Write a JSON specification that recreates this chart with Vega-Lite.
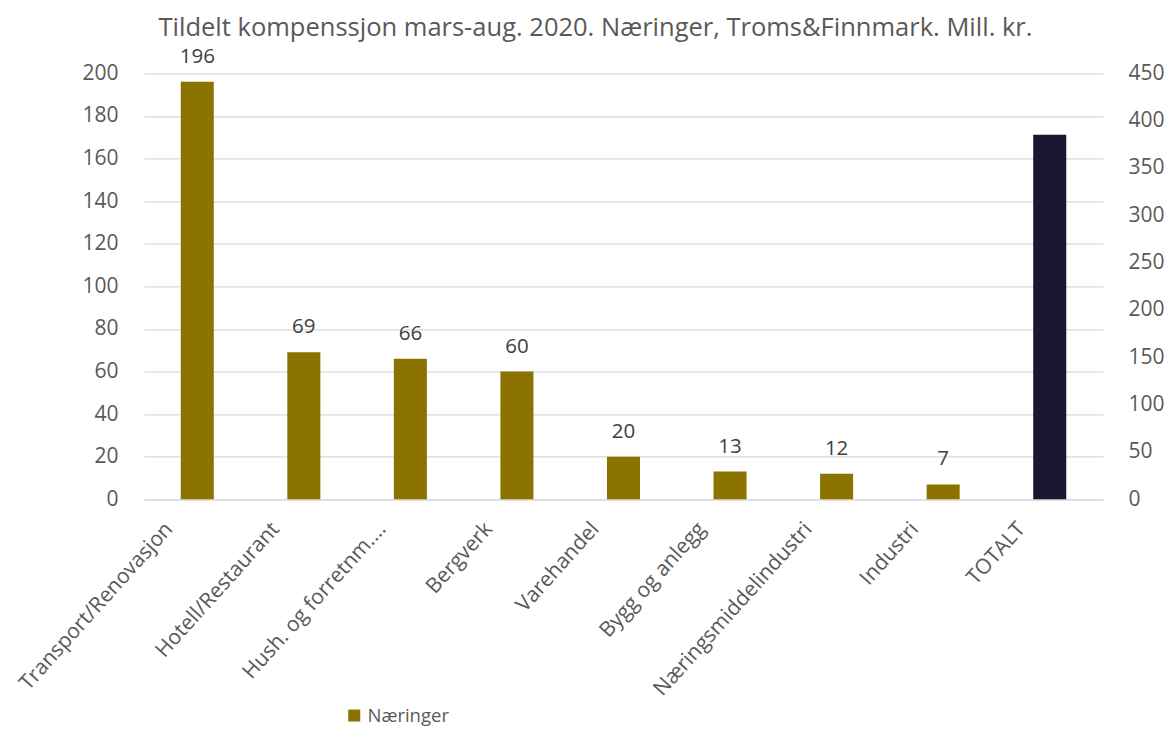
{
  "$schema": "https://vega.github.io/schema/vega-lite/v6.json",
  "width": 959,
  "height": 426,
  "autosize": "none",
  "padding": {"left": 144, "top": 73.3, "right": 70, "bottom": 231.7},
  "background": "white",
  "config": {
    "view": {"stroke": null},
    "font": "Open Sans"
  },
  "title": {
    "text": "Tildelt kompenssjon mars-aug. 2020. Næringer, Troms&Finnmark. Mill. kr.",
    "fontSize": 25.5,
    "fontWeight": "normal",
    "color": "#595959",
    "anchor": "middle",
    "frame": "group",
    "baseline": "alphabetic",
    "dx": -28,
    "dy": 21,
    "offset": 6
  },
  "data": {
    "values": [
      {"naering": "Transport/Renovasjon", "verdi": 196, "serie": "Næringer"},
      {"naering": "Hotell/Restaurant", "verdi": 69, "serie": "Næringer"},
      {"naering": "Hush. og forretnm....", "verdi": 66, "serie": "Næringer"},
      {"naering": "Bergverk", "verdi": 60, "serie": "Næringer"},
      {"naering": "Varehandel", "verdi": 20, "serie": "Næringer"},
      {"naering": "Bygg og anlegg", "verdi": 13, "serie": "Næringer"},
      {"naering": "Næringsmiddelindustri", "verdi": 12, "serie": "Næringer"},
      {"naering": "Industri", "verdi": 7, "serie": "Næringer"},
      {"naering": "TOTALT", "verdi": 385, "serie": "Totalt"}
    ]
  },
  "encoding": {
    "x": {
      "field": "naering",
      "type": "nominal",
      "sort": null,
      "scale": {"paddingInner": 0.69, "paddingOuter": 0.345},
      "axis": {
        "title": null,
        "labelAngle": -48,
        "labelAlign": "right",
        "labelBaseline": "middle",
        "labelFontSize": 21,
        "labelColor": "#595959",
        "labelPadding": 26,
        "labelOffset": -28,
        "labelLimit": 0,
        "ticks": false,
        "tickSize": 0,
        "domain": true,
        "domainColor": "#d9d9d9",
        "domainWidth": 1.3
      }
    }
  },
  "layer": [
    {
      "transform": [{"filter": "datum.serie === 'Næringer'"}],
      "encoding": {
        "y": {
          "field": "verdi",
          "type": "quantitative",
          "scale": {"domain": [0, 200], "nice": false},
          "axis": {
            "orient": "left",
            "title": null,
            "values": [0, 20, 40, 60, 80, 100, 120, 140, 160, 180, 200],
            "grid": true,
            "gridColor": "#d9d9d9",
            "gridWidth": 1.3,
            "domain": false,
            "ticks": false,
            "labelPadding": 26,
            "labelFontSize": 21,
            "labelColor": "#595959"
          }
        }
      },
      "layer": [
        {
          "mark": {"type": "bar"},
          "encoding": {
            "color": {
              "field": "serie",
              "type": "nominal",
              "scale": {"domain": ["Næringer", "Totalt"], "range": ["#8c7300", "#1a1530"]},
              "legend": {
                "values": ["Næringer"],
                "title": null,
                "orient": "none",
                "legendX": 201,
                "legendY": 633,
                "symbolType": "square",
                "symbolSize": 144,
                "symbolStrokeWidth": 0,
                "labelFontSize": 18.5,
                "labelColor": "#595959",
                "labelOffset": 4
              }
            }
          }
        },
        {
          "mark": {"type": "text", "baseline": "alphabetic", "dy": -19, "fontSize": 20.5, "color": "#404040"},
          "encoding": {"text": {"field": "verdi", "type": "quantitative", "format": "d"}}
        }
      ]
    },
    {
      "transform": [{"filter": "datum.serie === 'Totalt'"}],
      "mark": {"type": "bar"},
      "encoding": {
        "y": {
          "field": "verdi",
          "type": "quantitative",
          "scale": {"domain": [0, 450], "nice": false},
          "axis": {
            "orient": "right",
            "title": null,
            "values": [0, 50, 100, 150, 200, 250, 300, 350, 400, 450],
            "grid": false,
            "domain": false,
            "ticks": false,
            "labelPadding": 25,
            "labelFontSize": 21,
            "labelColor": "#595959"
          }
        },
        "color": {"field": "serie", "type": "nominal"}
      }
    }
  ],
  "resolve": {"scale": {"y": "independent"}}
}
